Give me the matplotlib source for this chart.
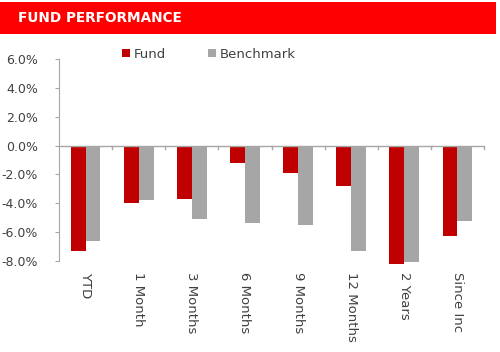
import matplotlib.pyplot as plt
import numpy as np
from matplotlib.patches import Rectangle

# data (percent)
categories = ["YTD", "1 Month", "3 Months", "6 Months",
              "9 Months", "12 Months", "2 Years", "Since Inc"]
fund = [-7.3, -4.0, -3.7, -1.2, -1.9, -2.8, -8.2, -6.3]
benchmark = [-6.6, -3.8, -5.1, -5.4, -5.5, -7.3, -8.1, -5.2]
y_ticks = [6, 4, 2, 0, -2, -4, -6, -8]

fund_color = "#C00000"
bench_color = "#A6A6A6"
axis_color = "#A6A6A6"
text_color = "#404040"

plt.rcParams["font.family"] = ["DejaVu Sans"]

fig = plt.figure(figsize=(5.0, 3.52), dpi=100)

# red header banner
fig.patches.append(Rectangle((0, 1 - 34 / 352), 496 / 500, 32 / 352,
                             transform=fig.transFigure,
                             facecolor="#FF0000", edgecolor="none"))
fig.text(18 / 500, 1 - 18 / 352, "FUND PERFORMANCE", color="white",
         fontsize=9.8, fontweight="bold", va="center", ha="left")

ax = fig.add_axes([59 / 500, 1 - 261 / 352, 425 / 500, 202 / 352])

x = np.arange(len(categories))
width = 0.28

ax.bar(x - width / 2, fund, width, color=fund_color,
       label="Fund", clip_on=False)
ax.bar(x + width / 2, benchmark, width, color=bench_color,
       label="Benchmark", clip_on=False)

ax.set_xlim(-0.5, len(categories) - 0.5)
ax.set_ylim(-8, 6)

ax.set_yticks(y_ticks)
ax.set_yticklabels([f"{v:.1f}%" for v in y_ticks],
                   fontsize=9, color=text_color)
ax.tick_params(axis="y", length=3, color=axis_color, pad=12)

# zero line with category boundary ticks
ax.axhline(0, color=axis_color, linewidth=1)
for b in np.arange(0.5, len(categories), 1.0):
    ax.plot([b, b], [0, -0.22], color=axis_color,
            linewidth=1, clip_on=False)

ax.set_xticks(x)
ax.set_xticklabels([])
ax.tick_params(axis="x", length=0)
for xi, label in zip(x, categories):
    ax.text(xi, -8.75, label, rotation=270, ha="center", va="top",
            fontsize=9.5, color=text_color)

for side in ["top", "right", "bottom"]:
    ax.spines[side].set_visible(False)
ax.spines["left"].set_color(axis_color)

fig.legend(loc="center left", bbox_to_anchor=(122 / 500, 1 - 54 / 352),
           ncol=2, frameon=False, fontsize=9.5, handlelength=0.6,
           handleheight=0.6, handletextpad=0.3, columnspacing=3.2,
           borderpad=0, borderaxespad=0, labelcolor=text_color)

fig.savefig("out.png", dpi=100)
